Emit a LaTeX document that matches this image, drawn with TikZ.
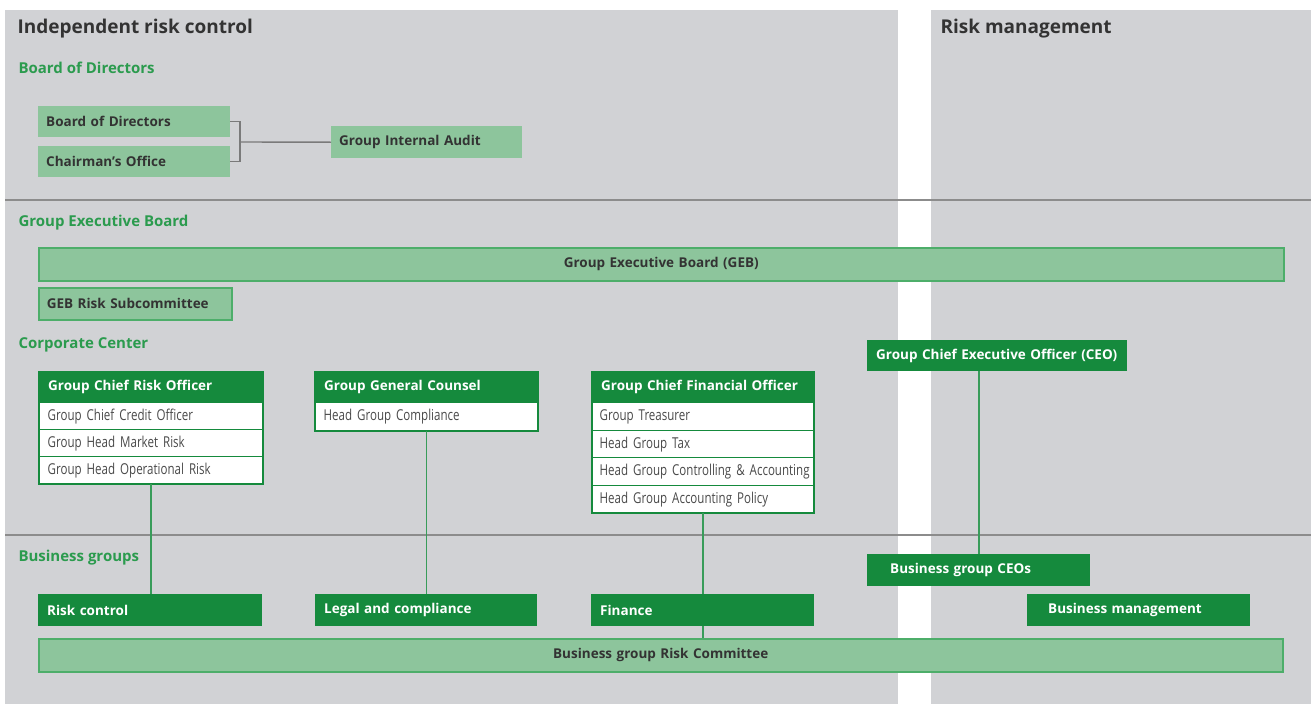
\documentclass[tikz,border=0pt]{standalone}
\usepackage{fontspec}
\setmainfont{Open Sans}
\newfontfamily\narrowf[FakeStretch=0.77, WordSpace=0.7]{Open Sans}
\definecolor{panel}{HTML}{D1D2D5}
\definecolor{dkgreen}{HTML}{158A3D}
\definecolor{ltgreen}{HTML}{8DC59C}
\definecolor{ltborder}{HTML}{4DAE6A}
\definecolor{labelgreen}{HTML}{2B9B4E}
\definecolor{titlegray}{HTML}{333333}
\definecolor{sepgray}{HTML}{8C8C8C}
\definecolor{rowtext}{HTML}{4A4A4A}
\definecolor{linkgray}{HTML}{7A7A7A}
\tikzset{
  lbox/.style={fill=ltgreen, anchor=north west, inner xsep=8pt, inner ysep=0pt,
    font=\bfseries\fontsize{13.5}{16}\selectfont, text=black!80, align=left},
  lbar/.style={lbox, draw=ltborder, line width=1.5pt},
  dbox/.style={fill=dkgreen, anchor=north west, inner xsep=9pt, inner ysep=0pt,
    font=\bfseries\fontsize{13.5}{16}\selectfont, text=white, align=left},
  rowbox/.style={fill=white, draw=dkgreen, line width=1.3pt, anchor=north west,
    inner xsep=8pt, inner ysep=0pt, font=\narrowf\fontsize{15}{16}\selectfont,
    text=rowtext, align=left},
  seclabel/.style={anchor=base west, text=labelgreen, font=\bfseries\fontsize{15}{18}\selectfont},
  maintitle/.style={anchor=base west, text=titlegray, font=\bfseries\fontsize{19}{22}\selectfont},
  vline/.style={draw=dkgreen!85, line width=1.6pt},
  graylink/.style={draw=linkgray, line width=1.4pt},
  frame/.style={draw=dkgreen, line width=2pt}
}
\begin{document}
\begin{tikzpicture}[x=1pt, y=-1pt]
\useasboundingbox (0,0) rectangle (1311,704);
\fill[white] (0,0) rectangle (1311,704);
\fill[panel] (5,10) rectangle (898,704);
\fill[panel] (931,10) rectangle (1311,704);
\draw[sepgray, line width=2pt] (5,200) -- (1311,200);
\draw[sepgray, line width=2pt] (5,535) -- (1311,535);

% titles
\node[maintitle] (t1) at (14,33) {Independent risk control};
\node[maintitle] (t2) at (937,33) {Risk management};
\node[seclabel] (s1) at (15,73) {Board of Directors};
\node[seclabel] (s2) at (15,226) {Group Executive Board};
\node[seclabel] (s3) at (15,348) {Corporate Center};
\node[seclabel] (s4) at (15,561) {Business groups};

% Board of Directors section
\node[lbox, text width=176pt, minimum height=31pt] (bod) at (38,106) {\mbox{Board of Directors}};
\node[lbox, text width=176pt, minimum height=31pt] (cho) at (38,146) {\mbox{Chairman’s Office}};
\node[lbox, text width=175pt, minimum height=32pt] (gia) at (331,126) {\mbox{Group Internal Audit}};
\coordinate (bj) at (240,142);
\draw[graylink] (bod.east) -- (bod.east -| bj) |- (cho.east);
\draw[graylink] (bj) -- (gia.west);

% GEB section
\node[lbar, text width=1229pt, minimum height=33pt, align=center] (geb) at (38,247) {Group Executive Board (GEB)};
\node[lbar, text width=177pt, minimum height=32pt] (gebr) at (38,287) {\mbox{GEB Risk Subcommittee}};

% Corporate Center: CRO
\node[dbox, text width=205pt, minimum height=30pt] (cro) at (39,372) {\mbox{Group Chief Risk Officer}};
\node[rowbox, text width=207pt, minimum height=27pt] (cro1) at (39,402) {\mbox{Group Chief Credit Officer}};
\node[rowbox, text width=207pt, minimum height=27pt] (cro2) at (39,429) {\mbox{Group Head Market Risk}};
\node[rowbox, text width=207pt, minimum height=27pt] (cro3) at (39,456) {\mbox{Group Head Operational Risk}};
\draw[frame] (cro.north west) rectangle (cro3.south east);

% GGC
\node[dbox, text width=204pt, minimum height=30pt] (ggc) at (315,372) {\mbox{Group General Counsel}};
\node[rowbox, text width=206pt, minimum height=28pt] (ggc1) at (315,402) {\mbox{Head Group Compliance}};
\draw[frame] (ggc.north west) rectangle (ggc1.south east);

% CFO
\node[dbox, text width=203pt, minimum height=30pt] (cfo) at (592,372) {\mbox{Group Chief Financial Officer}};
\node[rowbox, text width=207pt, minimum height=28pt, inner xsep=7pt] (cfo1) at (592,402) {\mbox{Group Treasurer}};
\node[rowbox, text width=207pt, minimum height=27pt, inner xsep=7pt] (cfo2) at (592,430) {\mbox{Head Group Tax}};
\node[rowbox, text width=207pt, minimum height=28pt, inner xsep=7pt] (cfo3) at (592,457) {\mbox{Head Group Controlling \& Accounting}};
\node[rowbox, text width=207pt, minimum height=27pt, inner xsep=7pt] (cfo4) at (592,485) {\mbox{Head Group Accounting Policy}};
\draw[frame] (cfo.north west) rectangle (cfo4.south east);

% CEO
\node[dbox, text width=242pt, minimum height=31pt, inner xsep=9pt] (ceo) at (867,340) {\mbox{Group Chief Executive Officer (CEO)}};

% Business groups
\node[dbox, text width=206pt, minimum height=32pt] (rc) at (38,594) {\mbox{Risk control}};
\node[dbox, text width=204pt, minimum height=32pt] (lc) at (315,594) {\mbox{Legal and compliance}};
\node[dbox, text width=205pt, minimum height=32pt] (fin) at (591,594) {\mbox{Finance}};
\node[dbox, text width=205pt, minimum height=32pt] (bceo) at (867,554) {\mbox{\hspace*{14pt}Business group CEOs}};
\node[dbox, text width=205pt, minimum height=32pt] (bm) at (1027,594) {\mbox{\hspace*{12pt}Business management}};
\node[lbar, text width=1228pt, minimum height=33pt, align=center] (brc) at (38,638) {Business group Risk Committee};

% connectors
\draw[vline] (cro3.south) -- (cro3.south |- rc.north);
\draw[vline] (ggc1.south) -- (ggc1.south |- lc.north);
\draw[vline] (cfo4.south) -- (cfo4.south |- fin.north);
\draw[vline] (cfo4.south |- fin.south) -- (cfo4.south |- brc.north);
\draw[vline] (bceo.north) -- (bceo.north |- ceo.south);
\end{tikzpicture}
\end{document}
